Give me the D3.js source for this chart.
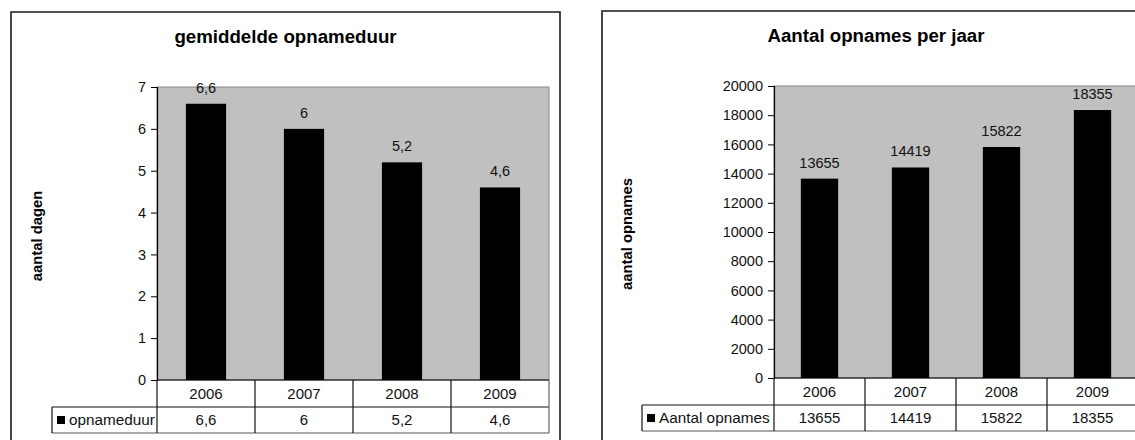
<!DOCTYPE html>
<html>
<head>
<meta charset="utf-8">
<script src="https://cdn.jsdelivr.net/npm/d3@7/dist/d3.min.js"></script>
<style>
  html, body { margin: 0; padding: 0; background: #fff; }
  svg { display: block; font-family: Arial, "Liberation Sans", sans-serif; }
</style>
</head>
<body>
<svg id="chart" width="1135" height="440"></svg>
<script>
// Data
const years = ["2006", "2007", "2008", "2009"];
const opnameduur = [6.6, 6, 5.2, 4.6];
const aantalOpnames = [13655, 14419, 15822, 18355];
const duurTicks = [0, 1, 2, 3, 4, 5, 6, 7];
const opnamesTicks = [0, 2000, 4000, 6000, 8000, 10000, 12000, 14000, 16000, 18000, 20000];

// Dutch number formatting (decimal comma, no thousands separator)
const nl = d3.formatLocale({ decimal: ",", thousands: "", grouping: [3], currency: ["€", ""] });
const fmt = v => nl.format("~r")(v);

const svg = d3.select("#chart");

function drawChart(cfg) {
  const g = svg.append("g");

  // outer frame (open at the bottom, it continues below the page)
  g.append("path")
    .attr("d", `M${cfg.frame.x},${cfg.frame.y + 460} V${cfg.frame.y} H${cfg.frame.r} V${cfg.frame.y + 460}`)
    .attr("fill", "none").attr("stroke", "#1a1a1a").attr("stroke-width", 1.6);

  const x = d3.scaleBand().domain(cfg.categories).range([cfg.plot.x0, cfg.plot.x1]).padding(0);
  const y = d3.scaleLinear().domain(cfg.domain).range([cfg.plot.y1, cfg.plot.y0]);

  // plot area
  g.append("rect")
    .attr("x", cfg.plot.x0).attr("y", cfg.plot.y0)
    .attr("width", cfg.plot.x1 - cfg.plot.x0).attr("height", cfg.plot.y1 - cfg.plot.y0)
    .attr("fill", "#c0c0c0").attr("stroke", "#888").attr("stroke-width", 1);

  // bars
  const barFrac = 0.41;
  g.selectAll("rect.bar").data(cfg.values).join("rect")
    .attr("class", "bar")
    .attr("x", (d, i) => x(cfg.categories[i]) + x.bandwidth() * (1 - barFrac) / 2)
    .attr("width", x.bandwidth() * barFrac)
    .attr("y", d => y(d))
    .attr("height", d => y(0) - y(d))
    .attr("fill", "#000");

  // value labels above the bars
  g.selectAll("text.val").data(cfg.values).join("text")
    .attr("class", "val")
    .attr("x", (d, i) => x(cfg.categories[i]) + x.bandwidth() / 2)
    .attr("y", d => y(d) - 11)
    .attr("text-anchor", "middle")
    .attr("font-size", 14.5).attr("fill", "#111")
    .text(d => fmt(d));

  // y axis
  const yAxis = d3.axisLeft(y).tickValues(cfg.ticks).tickSize(6).tickPadding(5).tickFormat(d => fmt(d));
  const ax = g.append("g").attr("transform", `translate(${cfg.plot.x0},0)`).call(yAxis);
  ax.select(".domain").attr("stroke", "#000").attr("stroke-width", 1.2);
  ax.selectAll(".tick line").attr("stroke", "#000");
  ax.selectAll(".tick text").attr("font-size", 14.5).attr("fill", "#111")
    .attr("font-family", 'Arial, "Liberation Sans", sans-serif');

  // data table beneath the plot
  const t = cfg.table;
  const line = (x1, y1, x2, y2, c) => g.append("line")
    .attr("x1", x1).attr("y1", y1).attr("x2", x2).attr("y2", y2)
    .attr("stroke", c || "#111").attr("stroke-width", 1.2);
  line(cfg.plot.x0, t.r0, cfg.plot.x1, t.r0, "#000");
  line(t.legendX, t.r1, cfg.plot.x1, t.r1);
  line(t.legendX, t.r2, cfg.plot.x1, t.r2, "#555");
  line(t.legendX, t.r1, t.legendX, t.r2);
  cfg.categories.forEach(c => line(x(c), t.r0, x(c), t.r2));
  line(cfg.plot.x1, t.r0, cfg.plot.x1, t.r2, "#666");

  g.selectAll("text.cat").data(cfg.categories).join("text")
    .attr("class", "cat")
    .attr("x", d => x(d) + x.bandwidth() / 2)
    .attr("y", (t.r0 + t.r1) / 2 + 5)
    .attr("text-anchor", "middle").attr("font-size", 15).attr("fill", "#111")
    .text(d => d);

  g.selectAll("text.cell").data(cfg.values).join("text")
    .attr("class", "cell")
    .attr("x", (d, i) => x(cfg.categories[i]) + x.bandwidth() / 2)
    .attr("y", (t.r1 + t.r2) / 2 + 5)
    .attr("text-anchor", "middle").attr("font-size", 15).attr("fill", "#111")
    .text(d => fmt(d));

  // legend key in the table
  g.append("rect")
    .attr("x", t.legendX + 5).attr("y", (t.r1 + t.r2) / 2 - 4)
    .attr("width", 8).attr("height", 8).attr("fill", "#000");
  g.append("text")
    .attr("x", t.legendX + 17).attr("y", (t.r1 + t.r2) / 2 + 5)
    .attr("font-size", 15.3).attr("fill", "#111")
    .text(cfg.seriesName);

  // titles
  g.append("text")
    .attr("x", cfg.titlePos[0]).attr("y", cfg.titlePos[1])
    .attr("text-anchor", "middle").attr("font-size", 18.7).attr("font-weight", "bold")
    .text(cfg.title);
  g.append("text")
    .attr("transform", `translate(${cfg.yTitlePos[0]},${cfg.yTitlePos[1]}) rotate(-90)`)
    .attr("text-anchor", "middle").attr("font-size", 14.8).attr("font-weight", "bold")
    .text(cfg.yTitle);
}

drawChart({
  categories: years, values: opnameduur, ticks: duurTicks, domain: [0, 7],
  seriesName: "opnameduur",
  title: "gemiddelde opnameduur", yTitle: "aantal dagen",
  frame: { x: 11, y: 12, r: 560 },
  plot: { x0: 157, x1: 549, y0: 87, y1: 380 },
  table: { r0: 380, r1: 407, r2: 433, legendX: 52 },
  titlePos: [285.5, 43], yTitlePos: [42, 236]
});

drawChart({
  categories: years, values: aantalOpnames, ticks: opnamesTicks, domain: [0, 20000],
  seriesName: "Aantal opnames",
  title: "Aantal opnames per jaar", yTitle: "aantal opnames",
  frame: { x: 602, y: 11, r: 1150 },
  plot: { x0: 774, x1: 1138, y0: 86, y1: 378 },
  table: { r0: 378, r1: 405, r2: 431, legendX: 642 },
  titlePos: [876, 42], yTitlePos: [632, 234]
});
</script>
</body>
</html>
